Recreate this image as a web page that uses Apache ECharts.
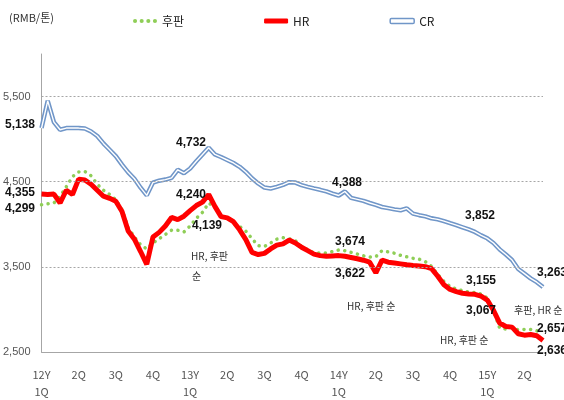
<!DOCTYPE html>
<html>
<head>
<meta charset="utf-8">
<script src="https://cdn.jsdelivr.net/npm/echarts@6/dist/echarts.min.js"></script>
<style>
  html, body { margin: 0; padding: 0; background: #fff; }
  #chart { width: 564px; height: 400px; }
</style>
</head>
<body>
<div id="chart"></div>
<script>
  // 분기 라벨 (한 분기에 6개 포인트)
  const quarterLabels = ['12Y\n1Q', '2Q', '3Q', '4Q', '13Y\n1Q', '2Q', '3Q', '4Q',
    '14Y\n1Q', '2Q', '3Q', '4Q', '15Y\n1Q', '2Q'];
  const pointsPerQuarter = 6;

  const yTickLabels = [2500, 3500, 4500, 5500];
  const gridValues = [3500, 4500, 5500];

  // 후판
  const platePrice = [
    4230, 4240, 4250, 4330, 4440, 4560, 4615, 4620, 4570, 4470,
    4400, 4350, 4290, 4170, 3960, 3850, 3760, 3710, 3780, 3830,
    3880, 3930, 3930, 3910, 3980, 4070, 4140, 4250, 4200, 4100,
    4080, 4010, 3975, 3920, 3830, 3748, 3740, 3780, 3825, 3842,
    3830, 3808, 3740, 3700, 3665, 3663, 3663, 3680, 3698, 3690,
    3670, 3650, 3630, 3615, 3620, 3690, 3675, 3660, 3635, 3618,
    3600, 3590, 3560, 3505, 3410, 3330, 3270, 3240, 3220, 3205,
    3198, 3180, 3135, 2990, 2780, 2770, 2790, 2760, 2765, 2765,
    2750, 2721
  ];

  // HR
  const hrPrice = [
    4355, 4350, 4355, 4250, 4400, 4350, 4530, 4520, 4470, 4400,
    4330, 4305, 4270, 4150, 3920, 3825, 3680, 3530, 3850, 3905,
    3980, 4080, 4055, 4095, 4160, 4220, 4260, 4350, 4210, 4090,
    4075, 4030, 3935, 3820, 3670, 3645, 3658, 3710, 3755, 3770,
    3815, 3780, 3730, 3690, 3650, 3632, 3624, 3628, 3632, 3624,
    3610, 3595, 3578, 3555, 3430, 3580, 3555, 3545, 3535, 3525,
    3517, 3510, 3502, 3480, 3390, 3290, 3235, 3210, 3190, 3182,
    3177, 3155, 3110, 2990, 2840, 2800, 2792, 2715, 2698, 2705,
    2690, 2636
  ];

  // CR
  const crPrice = [
    5130, 5450, 5200, 5110, 5130, 5130, 5130, 5125, 5090, 5037,
    4950, 4875, 4800, 4700, 4610, 4535, 4430, 4340, 4490, 4512,
    4525, 4545, 4640, 4600, 4655, 4740, 4820, 4900, 4820, 4790,
    4755, 4720, 4675, 4615, 4540, 4480, 4432, 4420, 4440, 4462,
    4495, 4490, 4460, 4440, 4422, 4405, 4386, 4360, 4338, 4385,
    4310, 4293, 4275, 4250, 4228, 4203, 4190, 4175, 4165, 4186,
    4125, 4107, 4093, 4070, 4058, 4037, 4013, 3990, 3965, 3940,
    3910, 3870, 3835, 3780, 3705, 3645, 3580, 3475, 3420, 3365,
    3320, 3263
  ];

  const periods = hrPrice.map((_, i) => String(i));

  // 주석 텍스트
  const valueNotes = [
    ['5,138', 5, 127], ['4,355', 5, 195], ['4,299', 5, 211],
    ['4,732', 176, 145], ['4,240', 176, 197], ['4,139', 192, 228],
    ['4,388', 332, 185], ['3,674', 335, 244], ['3,622', 335, 276],
    ['3,852', 465, 218], ['3,155', 466, 283], ['3,067', 466, 313],
    ['3,263', 537, 275], ['2,657', 537, 331], ['2,636', 537, 353]
  ];
  const orderNotes = [
    ['HR, 후판', 191, 258], ['순', 192, 278],
    ['HR, 후판 순', 347, 308], ['후판, HR 순', 514, 312], ['HR, 후판 순', 440, 342]
  ];

  const dotsIcon = 'path://M0,2a2,2 0 1,0 4,0a2,2 0 1,0 -4,0z' +
    'M6.5,2a2,2 0 1,0 4,0a2,2 0 1,0 -4,0z' +
    'M13,2a2,2 0 1,0 4,0a2,2 0 1,0 -4,0z' +
    'M19.5,2a2,2 0 1,0 4,0a2,2 0 1,0 -4,0z';

  const chart = echarts.init(document.getElementById('chart'));

  const graphic = [];
  valueNotes.forEach(([t, x, y]) => {
    graphic.push({
      type: 'text', left: x, top: y - 8, z: 100,
      style: { text: t, fill: '#111', font: 'bold 12px "Liberation Sans", Arial, sans-serif' }
    });
  });
  orderNotes.forEach(([t, x, y]) => {
    graphic.push({
      type: 'text', left: x, top: y - 7, z: 100,
      style: { text: t, fill: '#333', font: '10px "Noto Sans CJK KR", sans-serif' }
    });
  });

  const option = {
    animation: false,
    backgroundColor: '#fff',
    title: {
      text: '(RMB/톤)',
      left: 9,
      top: 12,
      padding: 0,
      textStyle: { fontSize: 11, fontWeight: 'normal', color: '#333', fontFamily: 'Noto Sans CJK KR' }
    },
    legend: {
      left: 128,
      top: 10,
      itemWidth: 24,
      itemHeight: 5,
      itemGap: 80,
      textStyle: { fontSize: 12, color: '#222', fontFamily: 'Noto Sans CJK KR' },
      data: [
        { name: '후판', icon: dotsIcon, itemStyle: { color: '#8fce57' } },
        { name: 'HR', icon: 'roundRect', itemStyle: { color: '#ff0000' } },
        { name: 'CR', icon: 'roundRect', itemStyle: { color: '#fff', borderColor: '#7096c8', borderWidth: 1.5 } }
      ]
    },
    grid: {
      left: 37,
      right: 21,
      top: 54,
      bottom: 45
    },
    xAxis: {
      type: 'category',
      boundaryGap: false,
      data: periods,
      axisLine: { lineStyle: { color: '#a6a6a6' } },
      axisTick: { show: false },
      axisLabel: {
        interval: (index) => index % pointsPerQuarter === 0,
        formatter: (value) => quarterLabels[Number(value) / pointsPerQuarter] || '',
        color: '#555',
        fontSize: 11,
        lineHeight: 17,
        margin: 14,
        fontFamily: 'Noto Sans CJK KR'
      }
    },
    yAxis: {
      type: 'value',
      min: 2500,
      max: 6000,
      interval: 500,
      axisLine: { show: true, lineStyle: { color: '#a6a6a6' } },
      axisTick: { show: false },
      splitLine: { show: false },
      axisLabel: {
        formatter: (v) => yTickLabels.includes(v) ? v.toLocaleString('en-US') : '',
        color: '#555',
        fontSize: 11,
        margin: 11,
        fontFamily: 'Liberation Sans'
      }
    },
    graphic: graphic,
    series: [
      {
        name: 'CR',
        type: 'line',
        data: crPrice,
        symbol: 'none',
        z: 2,
        lineStyle: { color: '#7096c8', width: 4.5 },
        itemStyle: { color: '#7096c8' }
      },
      {
        name: 'CR_inner',
        type: 'line',
        data: crPrice,
        symbol: 'none',
        z: 3,
        silent: true,
        lineStyle: { color: '#fff', width: 1.4 }
      },
      {
        name: '후판',
        type: 'line',
        data: platePrice,
        symbol: 'none',
        z: 2,
        lineStyle: { color: '#8fce57', width: 3.5, type: [0.1, 6.5], cap: 'round' },
        itemStyle: { color: '#8fce57' },
        markLine: {
          silent: true,
          symbol: 'none',
          label: { show: false },
          lineStyle: { color: '#a6a6a6', type: [2, 2], width: 1 },
          data: gridValues.map(v => ({ yAxis: v }))
        }
      },
      {
        name: 'HR',
        type: 'line',
        data: hrPrice,
        symbol: 'none',
        z: 4,
        lineStyle: { color: '#ff0000', width: 5 },
        itemStyle: { color: '#ff0000' }
      }
    ]
  };

  chart.setOption(option);
</script>
</body>
</html>
